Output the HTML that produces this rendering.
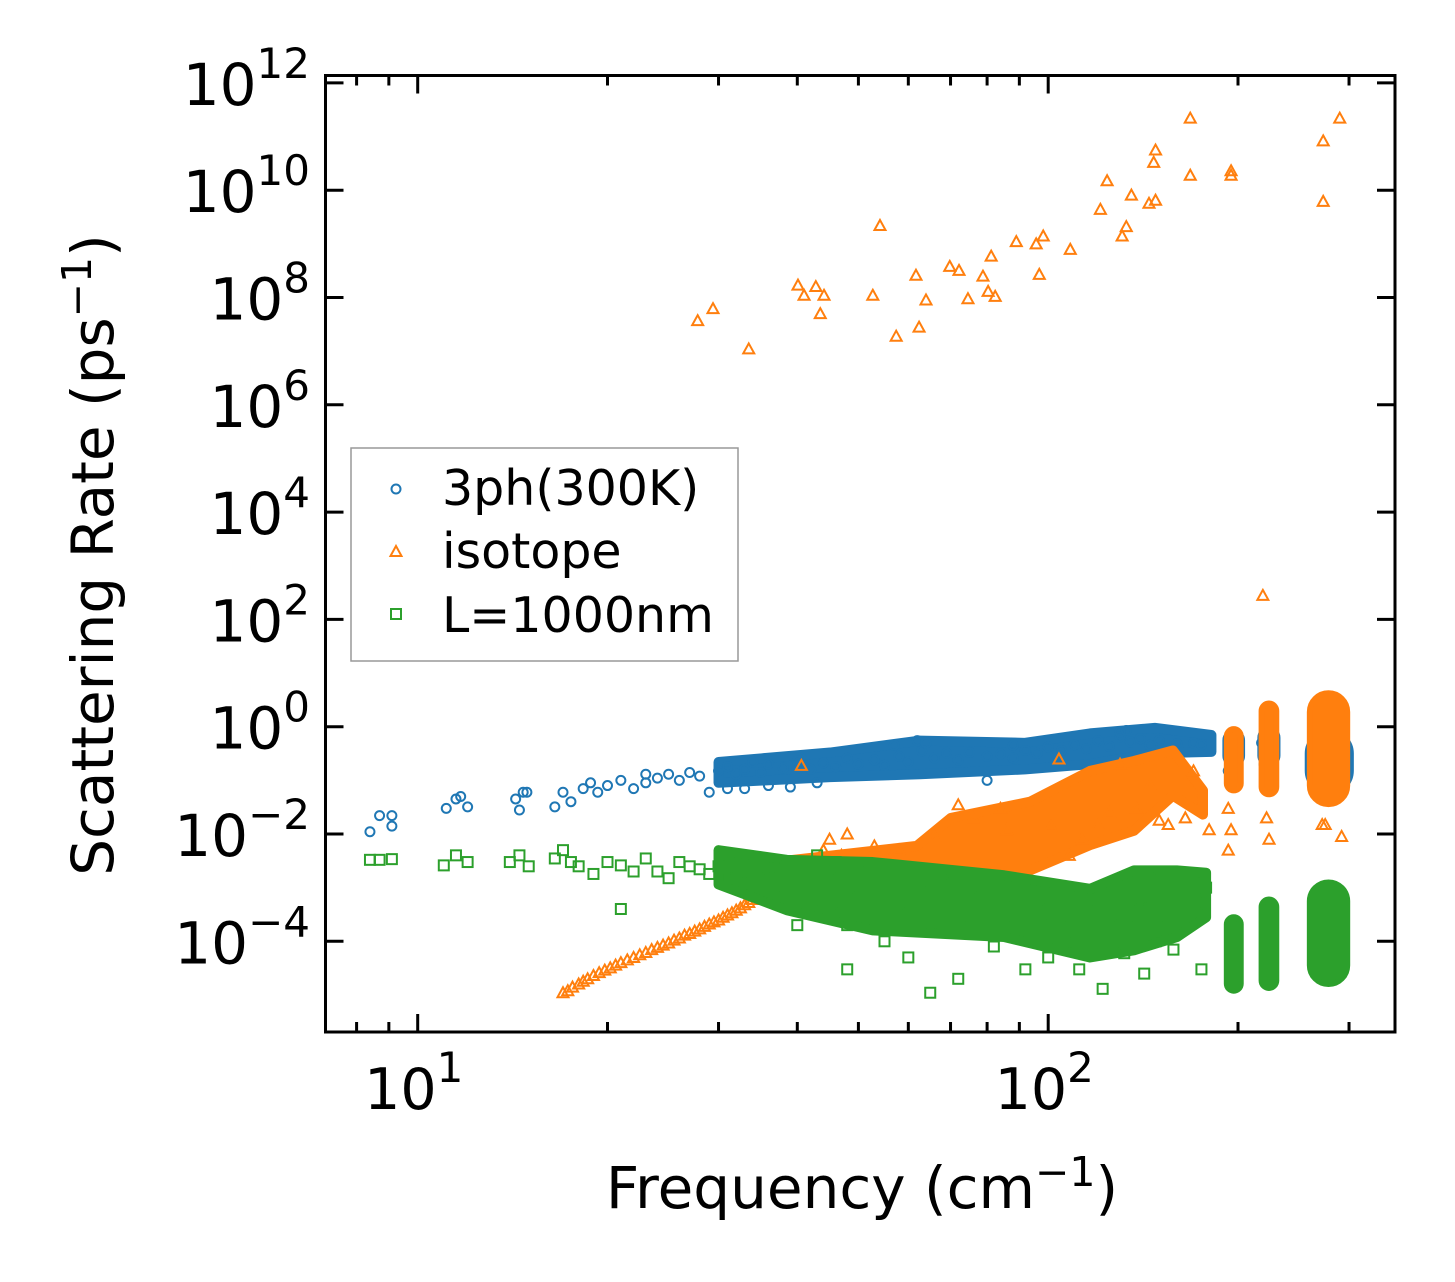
<!DOCTYPE html>
<html><head><meta charset="utf-8"><style>
html,body{margin:0;padding:0;background:#fff;}
svg{display:block;font-family:"DejaVu Sans","Liberation Sans",sans-serif;}
</style></head><body>
<svg id="chart" width="1455" height="1282" viewBox="0 0 1455 1282" xmlns="http://www.w3.org/2000/svg">
<rect width="1455" height="1282" fill="#fff"/>
<g id="marks"></g>
<g id="axes"></g>
<g id="legend">
<rect x="351" y="448" width="387" height="213" fill="#fff" stroke="#999" stroke-width="1.5"/>
<circle cx="396" cy="489" r="4.5" fill="none" stroke="#1f77b4" stroke-width="2"/>
<text x="442" y="505" font-size="49">3ph(300K)</text>
<path d="M396,546 L401.5,556 L390.5,556 Z" fill="none" stroke="#ff7f0e" stroke-width="2"/>
<text x="442" y="568" font-size="49">isotope</text>
<rect x="391" y="609" width="10" height="10" fill="none" stroke="#2ca02c" stroke-width="2"/>
<text x="442" y="632" font-size="49">L=1000nm</text>
</g>
</svg>
<script>
const xTicksMajor=[10,100];
const xTickLabels=["1","2"];
const xTicksMinor=[8,9,20,30,40,50,60,70,80,90,200,300];
const yTicks=[-4,-2,0,2,4,6,8,10,12];
// dense bands (envelopes of overlapping markers)
const blueBandF=[30,45.1,62.6,91.9,116.5,147.6,181.5];
const blueBandHi=[0.22,0.33,0.55,0.5,0.75,0.95,0.7];
const blueBandLo=[0.09,0.115,0.13,0.16,0.2,0.32,0.34];
const blueClusters=[[191,203,0.2,0.8],[217,231,0.2,0.9],[258,302,0.06,0.8]];
const orangeBandF=[38.5,61.9,70.1,93.6,116.5,136.8,157.7,176];
const orangeBandHi=[3.2e-3,6e-3,0.02,0.04,0.15,0.23,0.36,0.065];
const orangeBandLo=[1e-3,1.8e-3,2.1e-3,2.1e-3,6.2e-3,1.15e-2,0.052,0.023];
const orangeClusters=[[192,202,0.065,0.9],[218,230,0.055,2.7],[260,298,0.036,4.2]];
const greenBandF=[30,38.5,52.7,85.1,116.5,136.8,160,178];
const greenBandHi=[5e-3,3.3e-3,3e-3,1.7e-3,9.5e-4,2.1e-3,2.1e-3,1.9e-3];
const greenBandLo=[1.15e-3,3.8e-4,1.6e-4,1.2e-4,5e-5,6.8e-5,1.2e-4,2.8e-4];
const greenClusters=[[192,202,1.2e-5,2.8e-4],[218,230,1.35e-5,6e-4],[260,298,1.6e-5,1.25e-3]];
// individual markers
const blueF=[8.4,8.7,9.1,9.1,11.1,11.5,11.7,12.0,14.3,14.5,14.7,14.9,16.5,17,17.5,18.3,18.8,19.3,20,21,22,23,23,24,25,26,27,28,29,30,31,32,33,34,35,36,38,40,42,44,46,48,50,53,55,58,60,63,66,69,72,75,80,84,88,92,96,100,105,110,115,120,125,130,135,140,145,150,160,170,175,193,193,193,218,220,222,270,275,280,285,290,293,
 31,33,36,39,43,57,62,64,80,88,130,133];
const blueR=[1.1e-2,2.2e-2,2.2e-2,1.4e-2,3.0e-2,4.5e-2,5.0e-2,3.2e-2,4.5e-2,2.8e-2,6e-2,6e-2,3.2e-2,6e-2,4e-2,7e-2,9e-2,6e-2,8e-2,1e-1,7e-2,1.3e-1,9e-2,1.1e-1,1.3e-1,1.0e-1,1.4e-1,1.2e-1,6e-2,1.5e-1,1.8e-1,1.3e-1,1.6e-1,2.2e-1,1.4e-1,2.0e-1,1.7e-1,2.3e-1,1.6e-1,2.1e-1,1.8e-1,2.6e-1,2.0e-1,2.4e-1,1.9e-1,2.8e-1,2.2e-1,3.5e-1,2.6e-1,3.2e-1,2.4e-1,3.3e-1,2.8e-1,3.1e-1,2.6e-1,3.6e-1,3.2e-1,4.2e-1,3.6e-1,4.6e-1,3.9e-1,5.5e-1,4.3e-1,6.5e-1,5.2e-1,6.0e-1,4.5e-1,5.5e-1,4.8e-1,5.0e-1,4.6e-1,3e-1,1.5e-1,6e-1,5e-1,2e-1,8e-1,4e-1,1e-1,6e-1,2e-1,3e-1,7e-2,
 7e-2,7e-2,8e-2,7.5e-2,9e-2,0.45,0.55,0.5,0.1,0.45,0.8,0.85];
const orangeF=[27.8,29.4,33.5,40.1,41,42.8,43.5,44.1,52.7,54.1,57.4,61.7,62.4,64,69.8,72.2,74.6,78.8,80.3,81.2,82.4,89,95.7,96.8,98.2,108.4,121,124,131,133,135.5,144.5,148,147,148,168,168,195,195,273,273,290,219,
 17,17.3,17.6,18,18.3,18.6,19,19.4,19.8,20.2,20.6,21,21.5,22,22.5,23,23.5,24,24.5,25,25.5,26,26.5,27,27.5,28,28.5,29,29.5,30,30.5,31,31.5,32,32.5,33,33.5,34,34.5,35,36,37,40.6,48,44,47,53,58,66,108,113,120,125,130,138,145,155,165,170,180,193,193,195,222,224,272,275,292,
 45,56,72,76,84,86,101,104,150,163];
const orangeR=[3.7e7,6.2e7,1.1e7,1.7e8,1.1e8,1.6e8,5e7,1.1e8,1.1e8,2.2e9,1.9e7,2.6e8,2.8e7,9e7,3.8e8,3.2e8,9.5e7,2.5e8,1.3e8,5.9e8,1.05e8,1.1e9,1.0e9,2.7e8,1.4e9,7.9e8,4.4e9,1.5e10,1.4e9,2.1e9,8.1e9,5.7e9,6.5e9,3.3e10,5.6e10,2.2e11,1.9e10,2.3e10,1.9e10,8.3e10,6.2e9,2.2e11,2.8e2,
 1.1e-5,1.2e-5,1.4e-5,1.6e-5,1.8e-5,2e-5,2.3e-5,2.6e-5,2.9e-5,3.2e-5,3.6e-5,4e-5,4.5e-5,5e-5,5.6e-5,6.2e-5,7e-5,7.7e-5,8.5e-5,9.3e-5,1.05e-4,1.15e-4,1.3e-4,1.4e-4,1.55e-4,1.7e-4,1.9e-4,2.1e-4,2.3e-4,2.5e-4,2.8e-4,3.1e-4,3.4e-4,3.8e-4,4.2e-4,4.8e-4,5.3e-4,6e-4,6.8e-4,7.5e-4,9e-4,1.1e-3,1.9e-1,1.0e-2,5e-3,4e-3,6e-3,5e-3,9e-3,4e-3,8e-3,1.5e-2,2.5e-2,2e-1,3e-2,8e-2,1.5e-2,2e-2,1.5e-1,1.2e-2,3e-2,5e-3,1.2e-2,2e-2,8e-3,1.5e-2,1.5e-2,
 9e-3,8e-3,4e-3,3.5e-2,2e-2,3e-2,1.2e-2,1.4e-2,0.25,1.8e-2];
const greenF=[8.4,8.7,9.1,11,11.5,12,14,14.5,15,16.5,17,17.5,18,19,20,21,21,22,23,24,25,26,27,28,29,30,31,32,33,34,35,36,37,38,40,40,42,43,44,45,46,47,48,48,50,52,53,55,55,58,60,60,63,65,65,68,70,72,73,75,78,80,82,85,88,90,92,95,98,100,100,105,108,110,112,115,118,120,122,125,128,130,132,135,138,140,142,145,148,150,155,158,160,165,170,172,175,178];
const greenR=[3.3e-3,3.3e-3,3.4e-3,2.6e-3,4e-3,3e-3,3e-3,4e-3,2.5e-3,3.5e-3,5e-3,3e-3,2.5e-3,1.8e-3,3e-3,2.6e-3,4e-4,2e-3,3.5e-3,2e-3,1.5e-3,3e-3,2.5e-3,2.2e-3,1.8e-3,2.5e-3,1.5e-3,2e-3,1.2e-3,2e-3,8e-4,1.5e-3,2.5e-3,1e-3,1.6e-3,2e-4,1e-3,4e-3,6e-4,1.5e-3,3e-3,5e-4,2e-4,3e-5,1e-3,2e-3,4e-4,8e-4,1e-4,1.2e-3,5e-4,5e-5,9e-4,2e-4,1.1e-5,1.2e-3,4e-4,2e-5,9e-4,2e-4,1e-3,4e-4,8e-5,7e-4,2e-4,5e-4,3e-5,1e-3,3e-4,6e-4,5e-5,2e-4,5e-4,1e-4,3e-5,4e-4,2e-4,6e-4,1.3e-5,1.5e-4,5e-4,3e-4,6e-5,1e-3,2e-4,6e-4,2.5e-5,4e-4,1e-4,1.5e-3,3e-4,7e-5,8e-4,2e-4,1.2e-3,5e-4,3e-5,1e-3];

const NS='http://www.w3.org/2000/svg';
const X0=325.5,X1=1395,Y0=75.5,Y1=1032;
function xPos(f){return 417.7+(Math.log10(f)-1)*630.5;}
function yPos(r){return 726.7-Math.log10(r)*53.65;}
function yPosExp(e){return 726.7-e*53.65;}
function mk(tag,attrs,parent){const el=document.createElementNS(NS,tag);for(const k in attrs)el.setAttribute(k,attrs[k]);parent.appendChild(el);return el;}
const marks=document.getElementById('marks');
const axes=document.getElementById('axes');
const cp=mk('clipPath',{id:'clip'},marks);
mk('rect',{x:X0,y:Y0,width:X1-X0,height:Y1-Y0},cp);
function drawSeries(name,color,bF,bHi,bLo,clusters,pF,pR,shape){
  const g=mk('g',{'clip-path':'url(#clip)',fill:'none',stroke:color,'stroke-width':'2'},marks);
  
  
  const pts=[];
  bF.forEach((f,i)=>pts.push(xPos(f)+','+yPos(bHi[i])));
  for(let i=bF.length-1;i>=0;i--)pts.push(xPos(bF[i])+','+yPos(bLo[i]));
  const band=mk('polygon',{points:pts.join(' '),fill:color,stroke:color,'stroke-width':'10','stroke-linejoin':'round'},g);
  
  
  clusters.forEach(c=>{const x1=xPos(c[0]),x2=xPos(c[1]),y1=yPos(c[3]),y2=yPos(c[2]);
    const r=mk('rect',{x:x1,y:y1,width:x2-x1,height:y2-y1,rx:(x2-x1)/2,ry:Math.min((x2-x1)/2,(y2-y1)/2),fill:color,stroke:color,'stroke-width':'6'},g);
    
    });
  pF.forEach((f,i)=>{const x=xPos(f),y=yPos(pR[i]);let c;
    if(shape==='circle')c=mk('circle',{cx:x,cy:y,r:4.5},g);
    else if(shape==='square')c=mk('rect',{x:x-5,y:y-5,width:10,height:10},g);
    else c=mk('path',{d:`M${x},${y-5.5} L${x+5.5},${y+4.5} L${x-5.5},${y+4.5} Z`},g);
    
    });
}
drawSeries('3ph','#1f77b4',blueBandF,blueBandHi,blueBandLo,blueClusters,blueF,blueR,'circle');
drawSeries('isotope','#ff7f0e',orangeBandF,orangeBandHi,orangeBandLo,orangeClusters,orangeF,orangeR,'tri');
drawSeries('l1000nm','#2ca02c',greenBandF,greenBandHi,greenBandLo,greenClusters,greenF,greenR,'square');
const tg=mk('g',{stroke:'#000','stroke-width':'3'},axes);


xTicksMajor.forEach(f=>{const x=xPos(f);mk('line',{x1:x,x2:x,y1:Y1,y2:Y1-18},tg);mk('line',{x1:x,x2:x,y1:Y0,y2:Y0+18},tg);});
xTicksMinor.forEach(f=>{const x=xPos(f);mk('line',{x1:x,x2:x,y1:Y1,y2:Y1-10},tg);mk('line',{x1:x,x2:x,y1:Y0,y2:Y0+10},tg);});
yTicks.forEach(e=>{const y=yPosExp(e);mk('line',{x1:X0,x2:X0+18,y1:y,y2:y},tg);mk('line',{x1:X1,x2:X1-18,y1:y,y2:y},tg);});
const sp=mk('rect',{x:X0,y:Y0,width:X1-X0,height:Y1-Y0,fill:'none',stroke:'#000','stroke-width':'3'},axes);


xTicksMajor.forEach((f,i)=>{const t=mk('text',{x:xPos(f)-4,y:1109,'font-size':'57','text-anchor':'middle'},axes);


t.innerHTML='10<tspan dy="-27" font-size="42">'+xTickLabels[i]+'</tspan>';});
yTicks.forEach(e=>{const y=yPosExp(e);const t=mk('text',{x:310,y:y+22,'font-size':'58','text-anchor':'end'},axes);


const s=e<0?'\u2212'+(-e):String(e);
t.innerHTML='10<tspan dy="-27" font-size="42">'+s+'</tspan>';});
const xt=mk('text',{x:862,y:1208,'font-size':'58','text-anchor':'middle'},axes);


xt.innerHTML='Frequency (cm<tspan dy="-22" font-size="41">\u22121</tspan><tspan dy="22">)</tspan>';
const yt=mk('text',{x:0,y:0,'font-size':'58','text-anchor':'middle',transform:'translate(113,555) rotate(-90)'},axes);


yt.innerHTML='Scattering Rate (ps<tspan dy="-22" font-size="41">\u22121</tspan><tspan dy="22">)</tspan>';
</script>
</body></html>
